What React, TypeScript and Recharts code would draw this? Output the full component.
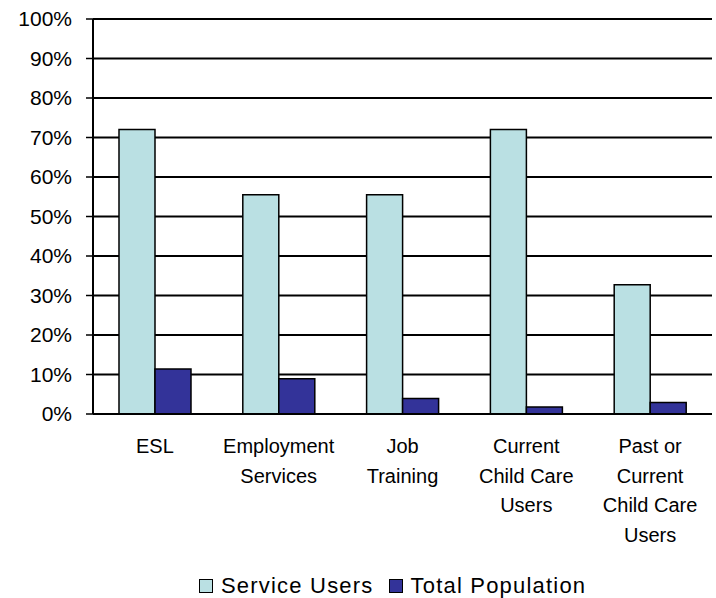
import React from "react";
import { BarChart, Bar, XAxis, YAxis, CartesianGrid, Legend } from "recharts";

const categories = [
  "ESL",
  "Employment Services",
  "Job Training",
  "Current Child Care Users",
  "Past or Current Child Care Users",
];
const categoryLines = [
  ["ESL"],
  ["Employment", "Services"],
  ["Job", "Training"],
  ["Current", "Child Care", "Users"],
  ["Past or", "Current", "Child Care", "Users"],
];
const serviceUsers = [0.72, 0.555, 0.555, 0.72, 0.327];
const totalPopulation = [0.114, 0.089, 0.039, 0.018, 0.029];
const yTicks = [0, 0.1, 0.2, 0.3, 0.4, 0.5, 0.6, 0.7, 0.8, 0.9, 1];
const boundaryTicks = [0, 1, 2, 3, 4, 5];
const seriesNames = ["Service Users", "Total Population"];
const LIGHT = "#BAE0E3";
const DARK = "#333399";

const data = categories.map((c, i) => ({
  name: c,
  idx: i,
  service: serviceUsers[i],
  total: totalPopulation[i],
}));

const FONT = '"Liberation Sans", Arial, sans-serif';

const CatTick = (props: any) => {
  const { x, y, index } = props;
  const lines = categoryLines[index] || [];
  return (
    <text x={x} y={y} textAnchor="middle" fontFamily={FONT} fontSize={20} fill="#000">
      {lines.map((l, i) => (
        <tspan key={i} x={x} dy={i === 0 ? 39 : 29.5}>
          {l}
        </tspan>
      ))}
    </text>
  );
};

const LegendContent = () => (
  <div
    style={{
      position: "absolute",
      left: 199,
      top: 19,
      display: "flex",
      alignItems: "center",
      fontFamily: FONT,
      fontSize: 22,
      letterSpacing: 1.2,
      color: "#000",
      whiteSpace: "nowrap",
    }}
  >
    {[LIGHT, DARK].map((c, i) => (
      <div key={i} style={{ display: "flex", alignItems: "center", marginRight: i === 0 ? 15 : 0 }}>
        <span
          style={{
            display: "inline-block",
            width: 12,
            height: 12,
            background: c,
            border: "1.5px solid #000",
            marginRight: 8,
          }}
        />
        <span>{seriesNames[i]}</span>
      </div>
    ))}
  </div>
);

export default function App() {
  return (
    <div style={{ position: "absolute", left: 0, top: 0, background: "#fff" }}>
      <BarChart
        width={716}
        height={598}
        data={data}
        margin={{ top: 19, right: 4, left: 0, bottom: 0 }}
        barGap={0}
        barCategoryGap="21%"
      >
        <CartesianGrid horizontal vertical={false} stroke="#000" strokeWidth={2} />
        <XAxis
          xAxisId="b"
          type="number"
          dataKey="idx"
          domain={[0, 5]}
          ticks={boundaryTicks}
          allowDataOverflow
          height={0}
          axisLine={false}
          tickSize={7}
          tickLine={{ stroke: "#000", strokeWidth: 1.5 }}
          tick={() => <g />}
        />
        <XAxis
          dataKey="name"
          height={140}
          axisLine={{ stroke: "#000", strokeWidth: 2 }}
          tickLine={false}
          tickSize={0}
          tickMargin={0}
          interval={0}
          tick={<CatTick />}
        />
        <YAxis
          width={93}
          domain={[0, 1]}
          ticks={yTicks}
          tickFormatter={(v: number) => `${Math.round(v * 100)}%`}
          axisLine={{ stroke: "#000", strokeWidth: 2 }}
          tickLine={{ stroke: "#000", strokeWidth: 1.5 }}
          tickSize={7}
          tickMargin={14}
          tick={{ fill: "#000", fontFamily: FONT, fontSize: 21 }}
          interval={0}
        />
        <YAxis
          yAxisId="r"
          orientation="right"
          width={0}
          domain={[0, 1]}
          axisLine={{ stroke: "#000", strokeWidth: 2 }}
          tickLine={false}
          tick={false}
        />
        <Legend verticalAlign="bottom" height={44} content={<LegendContent />} />
        <Bar dataKey="service" name={seriesNames[0]} fill={LIGHT} stroke="#000" strokeWidth={1.5} isAnimationActive={false} />
        <Bar dataKey="total" name={seriesNames[1]} fill={DARK} stroke="#000" strokeWidth={1.5} isAnimationActive={false} />
      </BarChart>
    </div>
  );
}
